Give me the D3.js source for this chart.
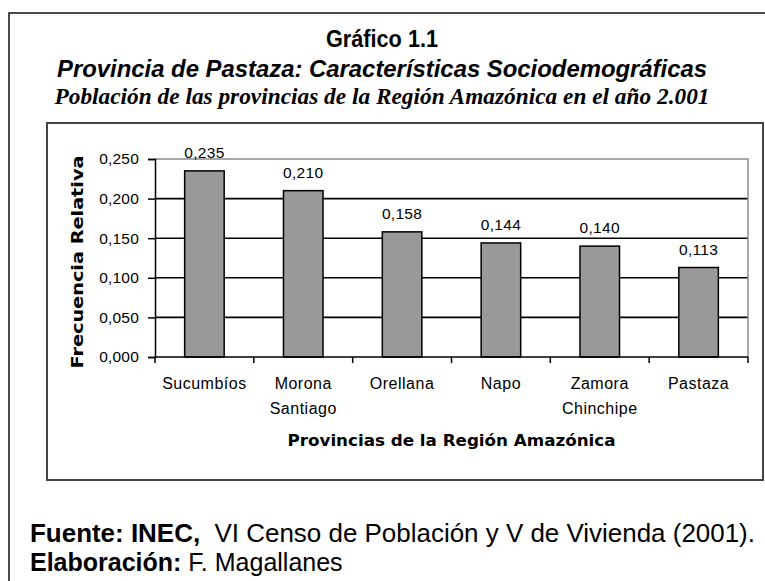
<!DOCTYPE html>
<html><head><meta charset="utf-8">
<script src="https://cdn.jsdelivr.net/npm/d3@7/dist/d3.min.js"></script>
<style>
html,body{margin:0;padding:0;background:#fff;}
svg{display:block;}
</style></head>
<body><svg id="c" width="765" height="581"></svg>
<script>
const categories = [["Sucumbíos"], ["Morona", "Santiago"], ["Orellana"], ["Napo"], ["Zamora", "Chinchipe"], ["Pastaza"]];
const values = [0.235, 0.210, 0.158, 0.144, 0.140, 0.113];
const valueLabels = ["0,235", "0,210", "0,158", "0,144", "0,140", "0,113"];
const yTicks = [0, 0.05, 0.10, 0.15, 0.20, 0.25];
const yTickLabels = ["0,000", "0,050", "0,100", "0,150", "0,200", "0,250"];
const titles = ["Gráfico 1.1", "Provincia de Pastaza: Características Sociodemográficas", "Población de las provincias de la Región Amazónica en el año 2.001"];
const yTitle = "Frecuencia Relativa";
const xTitle = "Provincias de la Región Amazónica";
const notes = [["Fuente: INEC,", "\u00a0 VI Censo de Población y V de Vivienda (2001)."], ["Elaboración:", " F. Magallanes"]];

const svg = d3.select("#c");
const sans = "'Liberation Sans', Arial, sans-serif";
const serif = "'Liberation Serif', 'Times New Roman', serif";
const chartFont = "'Liberation Sans', Arial, sans-serif";
const boldFont = "'DejaVu Sans', Verdana, sans-serif";

// outer frame (right/bottom edges run off the picture)
svg.append("rect").attr("x", 9).attr("y", 13).attr("width", 800).attr("height", 640)
  .attr("fill", "none").attr("stroke", "#111").attr("stroke-width", 1.5);

// titles
svg.append("text").attr("x", 382).attr("y", 47).attr("text-anchor", "middle")
  .attr("font-family", sans).attr("font-weight", "bold").attr("font-size", 23)
  .attr("textLength", 112).attr("lengthAdjust", "spacingAndGlyphs").text(titles[0]);
svg.append("text").attr("x", 382).attr("y", 77).attr("text-anchor", "middle")
  .attr("font-family", sans).attr("font-weight", "bold").attr("font-style", "italic").attr("font-size", 24)
  .attr("textLength", 650).attr("lengthAdjust", "spacingAndGlyphs").text(titles[1]);
svg.append("text").attr("x", 382).attr("y", 104).attr("text-anchor", "middle")
  .attr("font-family", serif).attr("font-weight", "bold").attr("font-style", "italic").attr("font-size", 24)
  .attr("textLength", 655).attr("lengthAdjust", "spacingAndGlyphs").text(titles[2]);

// inner chart box
svg.append("rect").attr("x", 47).attr("y", 123).attr("width", 716).attr("height", 357)
  .attr("fill", "#fff").attr("stroke", "#444").attr("stroke-width", 2);

// plot area
const L = 155, R = 748, T = 159, B = 357;
const x = d3.scaleBand().domain(d3.range(values.length)).range([L, R]).paddingInner(0.6).paddingOuter(0.3);
const y = d3.scaleLinear().domain([0, 0.25]).range([B, T]);

const g = svg.append("g");
g.selectAll("line.grid").data(yTicks.filter(t => t > 0 && t < 0.25)).enter().append("line")
  .attr("x1", L).attr("x2", R).attr("y1", d => y(d)).attr("y2", d => y(d))
  .attr("stroke", "#000").attr("stroke-width", 1.6);
g.append("path").attr("d", `M${L},${y(0.25)}H${R}V${B}`).attr("fill", "none")
  .attr("stroke", "#8c8c8c").attr("stroke-width", 1.5);

g.selectAll("rect.bar").data(values).enter().append("rect")
  .attr("x", (d, i) => x(i)).attr("width", x.bandwidth())
  .attr("y", d => y(d)).attr("height", d => y(0) - y(d))
  .attr("fill", "#999999").attr("stroke", "#000").attr("stroke-width", 1.5);

g.selectAll("text.val").data(values).enter().append("text")
  .attr("x", (d, i) => x(i) + x.bandwidth() / 2).attr("y", d => y(d) - 13)
  .attr("text-anchor", "middle").attr("font-family", chartFont).attr("font-size", 15.5)
  .attr("letter-spacing", 0.3).text((d, i) => valueLabels[i]);

// y axis
const yAxis = d3.axisLeft(y).tickValues(yTicks).tickSize(7).tickPadding(9)
  .tickFormat((d, i) => yTickLabels[i]);
const ya = svg.append("g").attr("transform", `translate(${L},0)`).call(yAxis);
ya.select(".domain").attr("stroke", "#000").attr("stroke-width", 1.5);
ya.selectAll(".tick line").attr("stroke", "#000").attr("stroke-width", 1.5);
ya.selectAll(".tick text").attr("font-family", chartFont).attr("font-size", 15.5).attr("fill", "#000")
  .attr("letter-spacing", 0.2);

// x axis
const xb = svg.append("g").attr("transform", `translate(0,${B})`);
xb.append("line").attr("x1", L).attr("x2", R).attr("stroke", "#000").attr("stroke-width", 1.5);
const step = x.step();
const boundaries = d3.range(values.length + 1).map(i => L + i * step);
xb.selectAll("line.tk").data(boundaries).enter().append("line")
  .attr("x1", d => d).attr("x2", d => d).attr("y1", 0).attr("y2", 6)
  .attr("stroke", "#000").attr("stroke-width", 1.5);

const cl = svg.append("g").selectAll("text").data(categories).enter().append("text")
  .attr("text-anchor", "middle").attr("font-family", chartFont).attr("font-size", 16)
  .attr("letter-spacing", 0.5);
cl.each(function (lines, i) {
  const t = d3.select(this);
  lines.forEach((ln, k) => {
    t.append("tspan").attr("x", x(i) + x.bandwidth() / 2).attr("y", B + 32 + k * 25).text(ln);
  });
});

// axis titles
svg.append("text").attr("x", (L + R) / 2).attr("y", 446).attr("text-anchor", "middle")
  .attr("font-family", boldFont).attr("font-weight", "bold").attr("font-size", 16.5)
  .attr("textLength", 328).attr("lengthAdjust", "spacingAndGlyphs").text(xTitle);
svg.append("text").attr("transform", `translate(83,${262}) rotate(-90)`).attr("text-anchor", "middle")
  .attr("font-family", boldFont).attr("font-weight", "bold").attr("font-size", 16)
  .attr("textLength", 213).attr("lengthAdjust", "spacingAndGlyphs").text(yTitle);

// source notes
const f1 = svg.append("text").attr("x", 30).attr("y", 542).attr("font-family", sans).attr("font-size", 25)
  .attr("textLength", 725).attr("lengthAdjust", "spacingAndGlyphs");
f1.append("tspan").attr("font-weight", "bold").text(notes[0][0]);
f1.append("tspan").text(notes[0][1]);
const f2 = svg.append("text").attr("x", 30).attr("y", 571).attr("font-family", sans).attr("font-size", 25);
f2.append("tspan").attr("font-weight", "bold").text(notes[1][0]);
f2.append("tspan").text(notes[1][1]);
</script></body></html>
